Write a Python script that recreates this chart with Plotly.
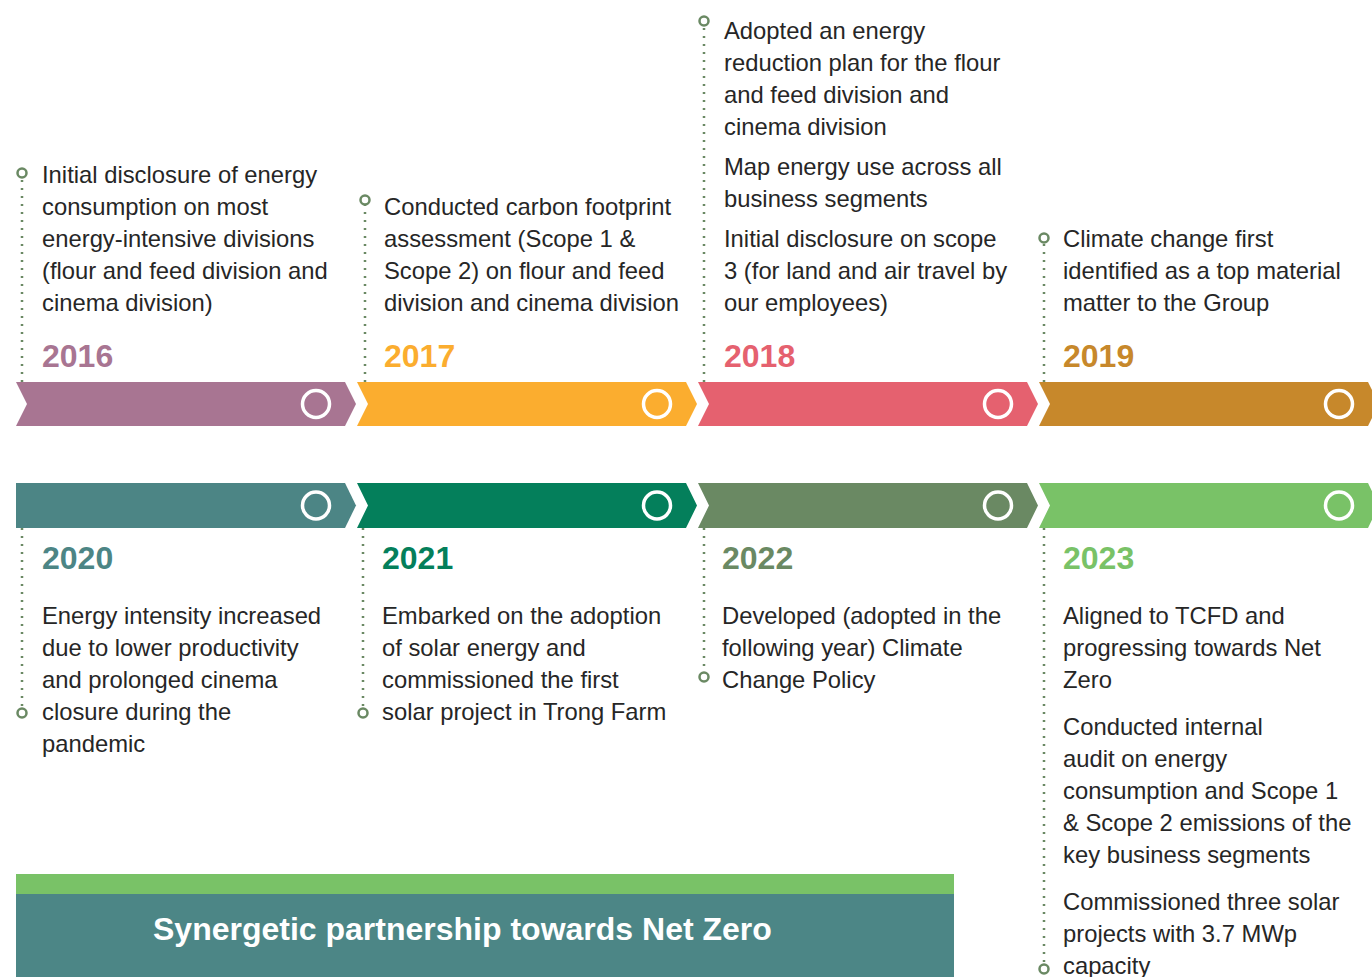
"""Climate / energy timeline infographic (2016-2023) rebuilt with Plotly shapes + annotations."""

import plotly.graph_objects as go

# ── Data ─────────────────────────────────────────────────────────────────────
YEARS = ["2016", "2017", "2018", "2019", "2020", "2021", "2022", "2023"]

YEAR_COLORS = [
    "#A87592",  # 2016 mauve
    "#FBAD2F",  # 2017 orange
    "#E5616F",  # 2018 coral
    "#C7882B",  # 2019 ochre
    "#4C8585",  # 2020 teal
    "#047F5B",  # 2021 green
    "#6A8963",  # 2022 sage
    "#79C267",  # 2023 light green
]

# each milestone = list of paragraphs, each paragraph = list of lines
MILESTONES = [
    [["Initial disclosure of energy", "consumption on most", "energy-intensive divisions",
      "(flour and feed division and", "cinema division)"]],
    [["Conducted carbon footprint", "assessment (Scope 1 &", "Scope 2) on flour and feed",
      "division and cinema division"]],
    [["Adopted an energy", "reduction plan for the flour", "and feed division and", "cinema division"],
     ["Map energy use across all", "business segments"],
     ["Initial disclosure on scope", "3 (for land and air travel by", "our employees)"]],
    [["Climate change first", "identified as a top material", "matter to the Group"]],
    [["Energy intensity increased", "due to lower productivity", "and prolonged cinema",
      "closure during the", "pandemic"]],
    [["Embarked on the adoption", "of solar energy and", "commissioned the first",
      "solar project in Trong Farm"]],
    [["Developed (adopted in the", "following year) Climate", "Change Policy"]],
    [["Aligned to TCFD and", "progressing towards Net", "Zero"],
     ["Conducted internal", "audit on energy", "consumption and Scope 1",
      "& Scope 2 emissions of the", "key business segments"],
     ["Commissioned three solar", "projects with 3.7 MWp", "capacity"]],
]

BANNER_TITLE = "Synergetic partnership towards Net Zero"

# ── Layout constants (pixels) ────────────────────────────────────────────────
W, H = 1372, 977
_TXT = "#262626"
_DOT = "#6A8963"
_BANNER_GREEN = "#79C267"
_BANNER_TEAL = "#4C8686"
_FONT = "Liberation Sans, Arial, Helvetica, sans-serif"

ROW_Y = [(382, 426), (483, 528)]          # arrow band top / bottom per row
SEG_START = 16
SEG_BODY = 329
SEG_GAP = 12
TIP = 11

LINE_H = 32
PARA_GAP = [8, 8, 8, 8, 8, 8, 8, 15]
TEXT_X = [40, 382, 722, 1061, 40, 380, 720, 1061]
STEM_X = [22, 365, 704, 1044, 22, 363, 704, 1044]
STEM_END = [173, 200, 21, 238, 713, 713, 677, 969]
TOP_LAST_LINE = 302
BOTTOM_FIRST_LINE = 615
YEAR_Y = [356, 558]

shapes = []
annotations = []

# ── Chevron bands + white rings ──────────────────────────────────────────────
for i, (year, color) in enumerate(zip(YEARS, YEAR_COLORS)):
    row, col = divmod(i, 4)
    y0, y1 = ROW_Y[row]
    ym = (y0 + y1) / 2
    s = SEG_START + col * (SEG_BODY + SEG_GAP)
    e = s + SEG_BODY
    notch = s + TIP if not (row == 1 and col == 0) else s
    path = (f"M {s},{y0} L {e},{y0} L {e + TIP},{ym} L {e},{y1} "
            f"L {s},{y1} L {notch},{ym} Z")
    shapes.append(dict(type="path", path=path, fillcolor=color,
                       line=dict(width=0), layer="below"))
    cx = s + 300
    r = 13.5
    shapes.append(dict(type="circle", x0=cx - r, x1=cx + r, y0=ym - r, y1=ym + r,
                       line=dict(color="white", width=3.5), fillcolor="rgba(0,0,0,0)"))

    # year label
    annotations.append(dict(x=TEXT_X[i], y=YEAR_Y[row], text=f"<b>{year}</b>",
                            xanchor="left", yanchor="middle", showarrow=False,
                            font=dict(family=_FONT, size=32, color=color)))

    # milestone text lines
    paras = MILESTONES[i]
    ys = []
    y = 0
    for p_idx, para in enumerate(paras):
        if p_idx > 0:
            y += PARA_GAP[i]
        for _ in para:
            ys.append(y)
            y += LINE_H
    offset = (TOP_LAST_LINE - ys[-1]) if row == 0 else BOTTOM_FIRST_LINE
    lines = [ln for para in paras for ln in para]
    for ln, yy in zip(lines, ys):
        annotations.append(dict(x=TEXT_X[i], y=yy + offset, text=ln,
                                xanchor="left", yanchor="middle", showarrow=False,
                                font=dict(family=_FONT, size=23.8, color=_TXT)))

    # dotted stem + small ring
    sx = STEM_X[i]
    stem_from = y0 if row == 0 else y1
    shapes.append(dict(type="line", x0=sx, x1=sx, y0=stem_from, y1=STEM_END[i],
                       line=dict(color=_DOT, width=2.5, dash="2px,6px"), layer="below"))
    rr = 4.5
    shapes.append(dict(type="circle", x0=sx - rr, x1=sx + rr,
                       y0=STEM_END[i] - rr, y1=STEM_END[i] + rr,
                       line=dict(color=_DOT, width=2.5), fillcolor="white"))

# ── Bottom banner ────────────────────────────────────────────────────────────
shapes.append(dict(type="rect", x0=16, x1=954, y0=874, y1=894,
                   fillcolor=_BANNER_GREEN, line=dict(width=0)))
shapes.append(dict(type="rect", x0=16, x1=954, y0=894, y1=H + 5,
                   fillcolor=_BANNER_TEAL, line=dict(width=0)))
annotations.append(dict(x=462, y=929, text=f"<b>{BANNER_TITLE}</b>",
                        xanchor="center", yanchor="middle", showarrow=False,
                        font=dict(family=_FONT, size=32, color="white")))

fig = go.Figure()
fig.update_layout(
    width=W,
    height=H,
    margin=dict(l=0, r=0, t=0, b=0),
    paper_bgcolor="white",
    plot_bgcolor="white",
    showlegend=False,
    xaxis=dict(range=[0, W], visible=False, fixedrange=True),
    yaxis=dict(range=[H, 0], visible=False, fixedrange=True),
    shapes=shapes,
    annotations=annotations,
)

fig.write_html("out.html", config={"displayModeBar": False},
               post_script="document.body.style.margin='0';")
